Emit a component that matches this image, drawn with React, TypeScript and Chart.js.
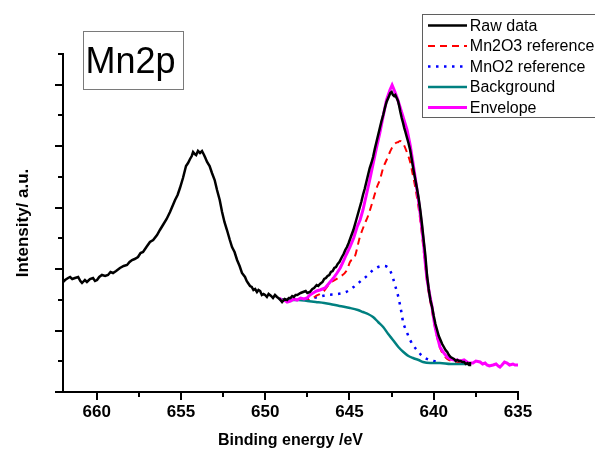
import { useEffect, useRef } from 'react';
import { Chart, registerables } from 'chart.js';

Chart.register(...registerables);

const FONT = "'Liberation Sans', Arial, Helvetica, sans-serif";

// ---- data (binding energy in eV, intensity in arbitrary units) ----
const rawE = [
  662.0, 661.88, 661.7, 661.58, 661.45, 661.29, 661.1, 660.97, 660.87, 660.7, 660.58, 660.4, 660.22, 660.1, 659.98,
  659.85, 659.69, 659.5, 659.33, 659.18, 659.03, 658.85, 658.62, 658.4, 658.2, 658.05, 657.9, 657.75, 657.55, 657.4,
  657.25, 657.05, 656.84, 656.65, 656.42, 656.25, 656.07, 655.85, 655.65, 655.5, 655.35, 655.2, 655.06, 654.88, 654.7,
  654.58, 654.46, 654.36, 654.28, 654.18, 654.1, 653.99, 653.87, 653.75, 653.63, 653.55, 653.45, 653.3, 653.16, 653.0,
  652.86, 652.7, 652.56, 652.42, 652.27, 652.1, 651.97, 651.82, 651.67, 651.52, 651.38, 651.2, 651.1, 651.02, 650.9,
  650.8, 650.7, 650.6, 650.49, 650.4, 650.3, 650.2, 650.1, 650.01, 649.9, 649.8, 649.65, 649.54, 649.42, 649.3,
  649.15, 649.0, 648.85, 648.7, 648.6, 648.5, 648.4, 648.3, 648.2, 648.1, 647.9, 647.75, 647.6, 647.5, 647.35,
  647.2, 647.1, 646.95, 646.85, 646.75, 646.6, 646.5, 646.4, 646.3, 646.2, 646.1, 646.0, 645.9, 645.8, 645.7,
  645.6, 645.45, 645.35, 645.25, 645.15, 645.05, 644.9, 644.77, 644.6, 644.5, 644.4, 644.3, 644.2, 644.1, 644.0,
  643.9, 643.8, 643.7, 643.6, 643.5, 643.4, 643.3, 643.2, 643.1, 643.0, 642.9, 642.8, 642.7, 642.65, 642.58,
  642.5, 642.42, 642.35, 642.28, 642.2, 642.12, 642.05, 641.98, 641.9, 641.82, 641.75, 641.68, 641.6, 641.5, 641.4,
  641.3, 641.2, 641.1, 641.0, 640.9, 640.8, 640.7, 640.6, 640.5, 640.4, 640.3, 640.2, 640.1, 640.0, 639.9,
  639.8, 639.7, 639.6, 639.5, 639.4, 639.3, 639.2, 639.1, 639.0, 638.9, 638.8, 638.7, 638.6, 638.5, 638.4,
  638.3, 638.2, 638.1, 638.0, 637.9, 637.85,
];
const rawI = [
  110, 112, 114, 115, 113, 114, 115, 111, 109, 112, 110, 113, 114, 111, 112,
  115, 117, 116, 117, 120, 119, 121, 124, 126, 127, 130, 132, 133, 135, 139,
  140, 145, 150, 152, 157, 162, 167, 173, 180, 186, 192, 197, 204, 214, 226,
  229, 233, 236, 240, 238, 237, 241, 239, 241, 237, 234, 230, 226, 219, 212,
  202, 192, 180, 170, 162, 152, 145, 140, 132, 126, 119, 115, 111, 109, 106,
  105, 102, 103, 100, 102, 101, 97, 98, 97, 95, 98, 96, 94, 97, 95,
  93, 90, 93, 92, 94, 94, 96, 95, 97, 97, 99, 100, 101, 99, 100,
  103, 104, 107, 106, 108, 110, 113, 114, 116, 117, 120, 121, 124, 125, 128,
  130, 135, 138, 142, 145, 149, 156, 162, 172, 178, 184, 190, 197, 203, 210,
  217, 224, 229, 235, 243, 250, 257, 264, 271, 277, 284, 290, 294, 296, 299,
  300, 297, 296, 297, 294, 291, 286, 280, 274, 269, 264, 260, 255, 249, 242,
  232, 222, 213, 204, 194, 182, 168, 152, 137, 117, 103, 92, 85, 76, 68,
  62, 56, 52, 48, 45, 42, 40, 37, 35, 34, 33, 31, 32, 31, 31,
  30, 30, 28, 29, 27, 30,
];

const mn2o3E = [
  649.2, 648.5, 648.0, 647.6, 647.34, 647.0, 646.57, 646.15, 645.68, 645.15, 644.97, 644.67, 644.4, 644.1, 643.9,
  643.6, 643.37, 643.2, 643.0, 642.8, 642.6, 642.42, 642.25, 642.1, 642.0, 641.8, 641.6, 641.4, 641.25, 641.1,
  640.95, 640.8, 640.69, 640.55, 640.4, 640.25, 640.1, 639.95, 639.8, 639.6, 639.4, 639.2, 638.9, 638.6, 638.2,
  637.9,
];
const mn2o3I = [
  93, 92, 92, 92, 92, 96, 100, 109, 114, 122, 130, 136, 154, 168, 176,
  192, 205, 212, 224, 232, 240, 246, 249, 250, 251, 248, 240, 230, 218, 205,
  190, 172, 156, 134, 111, 95, 81, 67, 55, 43, 37, 33, 31, 30, 29,
  28,
];

const mno2E = [
  648.5, 647.8, 647.16, 646.33, 645.7, 645.2, 644.75, 644.26, 643.9, 643.6, 643.3, 643.0, 642.75, 642.55, 642.42,
  642.3, 642.18, 642.1, 642.0, 641.9, 641.82, 641.7, 641.58, 641.4, 641.2, 640.99, 640.75, 640.52, 640.25, 640.0,
  639.7,
];
const mno2I = [
  92, 93, 94, 97, 98, 100, 105, 112, 117, 122, 125, 126, 125, 120, 114,
  107, 100, 95, 87, 78, 70, 64, 59, 52, 46, 42, 37, 34, 32, 31,
  30,
];

const backgroundE = [
  649.2, 648.5, 648.0, 647.5, 647.0, 646.5, 646.15, 645.6, 644.97, 644.5, 644.2, 643.9, 643.6, 643.3, 643.0,
  642.7, 642.42, 642.1, 641.8, 641.5, 641.23, 640.9, 640.64, 640.2, 639.63, 639.0, 638.5, 637.8,
];
const backgroundI = [
  93, 92, 92, 91, 90, 89, 88, 86, 84, 82, 80, 78, 75, 70, 65,
  58, 52, 45, 40, 36, 34, 32, 30, 29, 29, 28, 28, 28,
];

const envelopeE = [
  649.15, 649.0, 648.85, 648.7, 648.5, 648.3, 648.11, 647.9, 647.7, 647.52, 647.35, 647.16, 646.95, 646.75, 646.6,
  646.45, 646.3, 646.15, 645.95, 645.74, 645.55, 645.38, 645.2, 644.97, 644.75, 644.55, 644.37, 644.2, 644.0, 643.8,
  643.6, 643.4, 643.2, 643.0, 642.8, 642.6, 642.47, 642.3, 642.15, 642.0, 641.8, 641.58, 641.4, 641.23, 641.08,
  640.93, 640.8, 640.69, 640.6, 640.52, 640.4, 640.25, 640.1, 640.0, 639.92, 639.8, 639.63, 639.45, 639.21, 639.0,
  638.8, 638.62, 638.4, 638.2, 638.02, 637.9, 637.67, 637.5, 637.25, 637.1, 636.95, 636.84, 636.7, 636.48, 636.3,
  636.17, 636.07, 635.95, 635.8, 635.65, 635.5, 635.3, 635.18, 635.0,
];
const envelopeI = [
  94, 91, 92, 90, 91, 93, 92, 94, 93, 94, 97, 99, 101, 102, 103,
  104, 107, 110, 114, 119, 124, 130, 137, 145, 154, 165, 172, 182, 197, 212,
  228, 244, 259, 276, 292, 302, 307, 300, 293, 285, 274, 262, 247, 229, 212,
  195, 178, 162, 148, 132, 113, 98, 85, 73, 65, 56, 45, 40, 35, 33,
  32, 32, 31, 32, 30, 29, 29, 31, 30, 28, 29, 27, 26, 27, 28,
  26, 25, 27, 30, 29, 27, 28, 27, 27,
];

const seriesLabels = ['Raw data', 'Mn2O3 reference', 'MnO2 reference', 'Background', 'Envelope'];
const panelLabel = 'Mn2p';

const xMin = 635;
const xMax = 662;
const xMajorTicks = [660, 655, 650, 645, 640, 635];
const xMinorTicks = [657.5, 652.5, 647.5, 642.5, 637.5];
const yMin = 0;
const yMax = 338;
const yDivisions = 11;

const toPoints = (xs: number[], ys: number[]) => xs.map((x, i) => ({ x, y: ys[i] }));

// ---- plugins ----
const tickMarksPlugin = {
  id: 'tickMarks',
  afterDraw(chart: any) {
    const { ctx, chartArea, scales } = chart;
    const xs = scales.x;
    const ys = scales.y;
    ctx.save();
    ctx.strokeStyle = '#000';
    ctx.lineWidth = 2;
    ctx.beginPath();
    for (const v of xMajorTicks) {
      const px = Math.round(xs.getPixelForValue(v));
      ctx.moveTo(px, chartArea.bottom);
      ctx.lineTo(px, chartArea.bottom + 8);
    }
    for (const v of xMinorTicks) {
      const px = Math.round(xs.getPixelForValue(v));
      ctx.moveTo(px, chartArea.bottom);
      ctx.lineTo(px, chartArea.bottom + 5);
    }
    for (let k = 0; k <= yDivisions; k++) {
      const py = Math.round(ys.getPixelForValue(yMin + ((yMax - yMin) * k) / yDivisions));
      const len = k % 2 === 0 ? 8 : 5;
      ctx.moveTo(chartArea.left, py);
      ctx.lineTo(chartArea.left - len, py);
    }
    ctx.stroke();
    ctx.restore();
  },
};

const panelLabelPlugin = {
  id: 'panelLabel',
  afterDraw(chart: any) {
    const { ctx } = chart;
    ctx.save();
    ctx.fillStyle = '#fff';
    ctx.fillRect(83, 31, 100, 58);
    ctx.strokeStyle = '#7a7a7a';
    ctx.lineWidth = 1;
    ctx.strokeRect(83.5, 31.5, 100, 58);
    ctx.fillStyle = '#000';
    ctx.font = `36px ${FONT}`;
    ctx.textAlign = 'left';
    ctx.textBaseline = 'alphabetic';
    ctx.fillText(panelLabel, 85.5, 73);
    ctx.restore();
  },
};

const legendBoxPlugin = {
  id: 'legendBox',
  afterDraw(chart: any) {
    const { ctx } = chart;
    const left = 422;
    const top = 14;
    const firstBaseline = 30.7;
    const rowStep = 20.5;
    ctx.save();
    ctx.fillStyle = '#fff';
    ctx.fillRect(left, top, 220, 103);
    ctx.strokeStyle = '#5f5f5f';
    ctx.lineWidth = 1;
    ctx.strokeRect(left + 0.5, top + 0.5, 220, 103);
    chart.data.datasets.forEach((ds: any, i: number) => {
      const base = firstBaseline + i * rowStep;
      const ly = base - 5.3;
      ctx.save();
      ctx.strokeStyle = ds.borderColor;
      ctx.lineWidth = ds.borderWidth;
      ctx.setLineDash(ds.borderDash || []);
      ctx.beginPath();
      ctx.moveTo(428, ly);
      ctx.lineTo(467, ly);
      ctx.stroke();
      ctx.restore();
      ctx.fillStyle = '#000';
      ctx.font = `16px ${FONT}`;
      ctx.textAlign = 'left';
      ctx.textBaseline = 'alphabetic';
      ctx.fillText(ds.label, 469.8, base);
    });
    ctx.restore();
  },
};

export default function App() {
  const canvasRef = useRef<HTMLCanvasElement | null>(null);

  useEffect(() => {
    document.body.style.margin = '0';
    const canvas = canvasRef.current;
    if (!canvas) return;

    const chart = new Chart(canvas, {
      type: 'line',
      data: {
        datasets: [
          {
            label: seriesLabels[0],
            data: toPoints(rawE, rawI),
            borderColor: '#000000',
            borderWidth: 2.5,
            pointRadius: 0,
            order: 0,
          },
          {
            label: seriesLabels[1],
            data: toPoints(mn2o3E, mn2o3I),
            borderColor: '#ff0000',
            borderWidth: 2,
            borderDash: [7, 5],
            pointRadius: 0,
            cubicInterpolationMode: 'monotone',
            order: 3,
          },
          {
            label: seriesLabels[2],
            data: toPoints(mno2E, mno2I),
            borderColor: '#0000ff',
            borderWidth: 2.5,
            borderDash: [2.5, 5.5],
            pointRadius: 0,
            cubicInterpolationMode: 'monotone',
            order: 4,
          },
          {
            label: seriesLabels[3],
            data: toPoints(backgroundE, backgroundI),
            borderColor: '#008080',
            borderWidth: 2.5,
            pointRadius: 0,
            cubicInterpolationMode: 'monotone',
            order: 2,
          },
          {
            label: seriesLabels[4],
            data: toPoints(envelopeE, envelopeI),
            borderColor: '#ff00ff',
            borderWidth: 3,
            pointRadius: 0,
            order: 1,
          },
        ],
      },
      options: {
        responsive: false,
        animation: false,
        devicePixelRatio: 1,
        layout: { padding: { top: 54, right: 77, left: 0, bottom: 0 } },
        plugins: {
          legend: { display: false },
          tooltip: { enabled: false },
          title: { display: false },
        },
        elements: { line: { tension: 0, fill: false } },
        scales: {
          x: {
            type: 'linear',
            min: xMin,
            max: xMax,
            reverse: true,
            grid: { display: false, drawTicks: false },
            border: { display: true, color: '#000', width: 2 },
            afterBuildTicks: (scale: any) => {
              scale.ticks = xMajorTicks.map((v) => ({ value: v }));
            },
            afterFit: (scale: any) => {
              scale.height = 58;
            },
            ticks: {
              padding: 10,
              color: '#000',
              maxRotation: 0,
              autoSkip: false,
              font: { family: FONT, size: 17, weight: 'bold' },
              callback: (v: any) => String(v),
            },
            title: {
              display: true,
              text: 'Binding energy /eV',
              color: '#000',
              font: { family: FONT, size: 16, weight: 'bold' },
              padding: { top: 0, bottom: 0 },
            },
          },
          y: {
            type: 'linear',
            min: yMin,
            max: yMax,
            grid: { display: false, drawTicks: false },
            border: { display: true, color: '#000', width: 2 },
            ticks: { display: false },
            afterFit: (scale: any) => {
              scale.width = 63;
            },
            title: {
              display: true,
              text: 'Intensity/ a.u.',
              color: '#000',
              font: { family: FONT, size: 17, weight: 'bold' },
              padding: { top: 13, bottom: 0 },
            },
          },
        },
      } as any,
      plugins: [tickMarksPlugin, panelLabelPlugin, legendBoxPlugin],
    });

    return () => {
      chart.destroy();
    };
  }, []);

  return (
    <div style={{ width: 595, height: 450 }}>
      <canvas ref={canvasRef} width={595} height={450} style={{ display: 'block' }} />
    </div>
  );
}
